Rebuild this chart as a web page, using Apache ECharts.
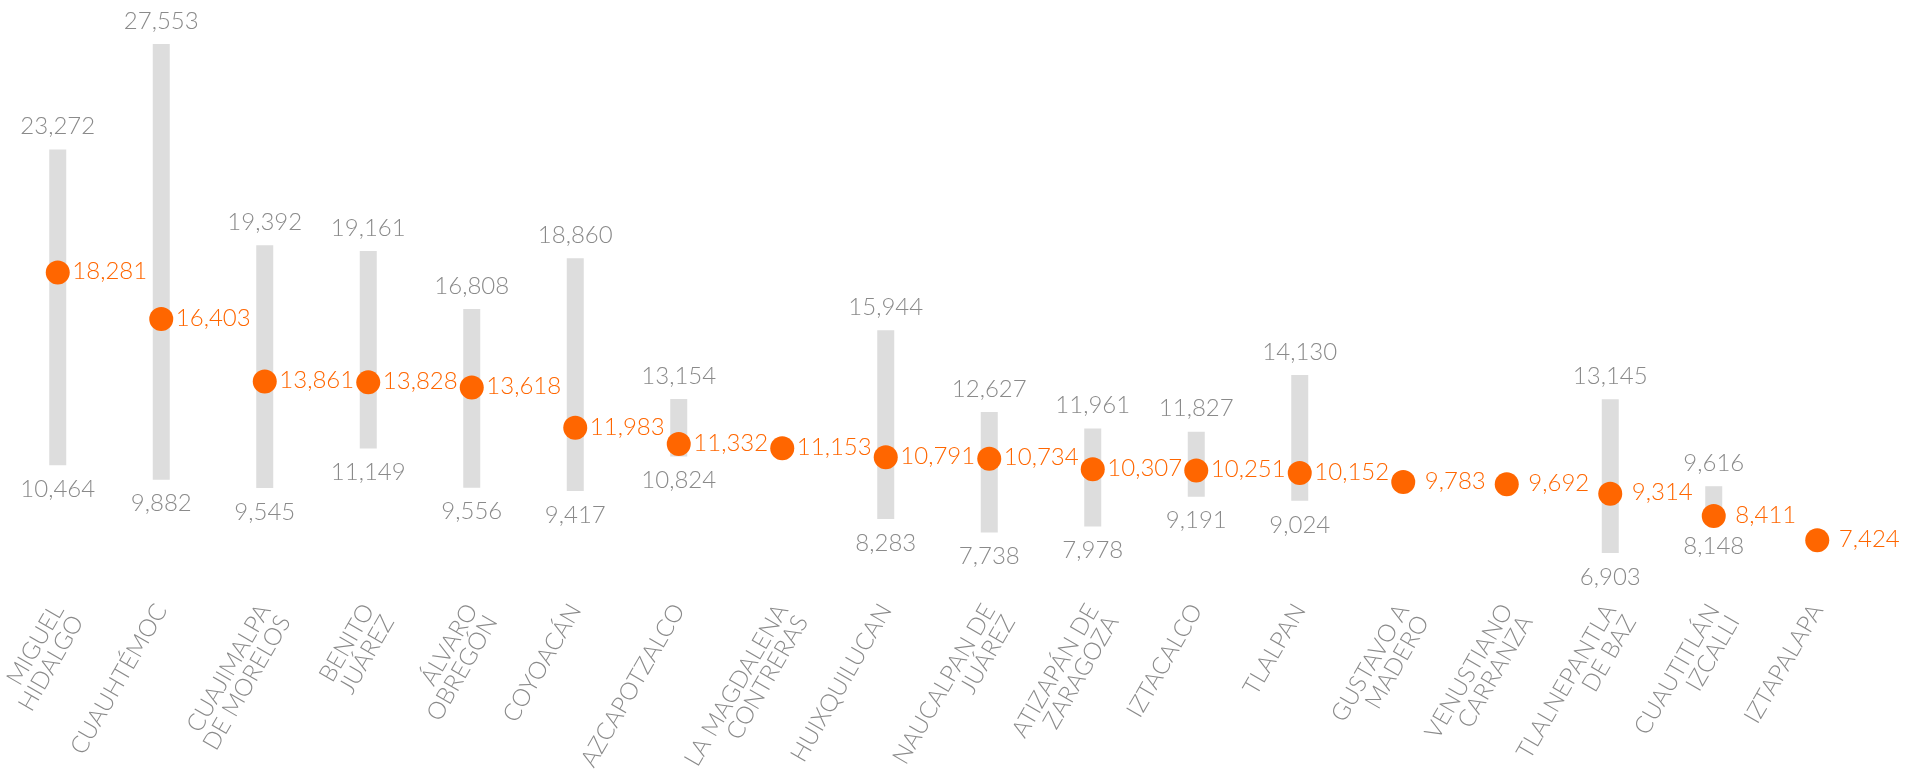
<!DOCTYPE html>
<html>
<head>
<meta charset="utf-8">
<script src="https://cdn.jsdelivr.net/npm/echarts@6/dist/echarts.min.js"></script>
<style>
  html, body { margin: 0; padding: 0; background: #ffffff; }
  #chart { width: 1905px; height: 781px; }
</style>
</head>
<body>
<div id="chart"></div>
<script>
const categories = ['MIGUEL\nHIDALGO', 'CUAUHTÉMOC', 'CUAJIMALPA\nDE MORELOS', 'BENITO\nJUÁREZ', 'ÁLVARO\nOBREGÓN', 'COYOACÁN', 'AZCAPOTZALCO', 'LA MAGDALENA\nCONTRERAS', 'HUIXQUILUCAN', 'NAUCALPAN DE\nJUÁREZ', 'ATIZAPÁN DE\nZARAGOZA', 'IZTACALCO', 'TLALPAN', 'GUSTAVO A\nMADERO', 'VENUSTIANO\nCARRANZA', 'TLALNEPANTLA\nDE BAZ', 'CUAUTITLÁN\nIZCALLI', 'IZTAPALAPA'];
const highValues = [23272, 27553, 19392, 19161, 16808, 18860, 13154, null, 15944, 12627, 11961, 11827, 14130, null, null, 13145, 9616, null];
const lowValues = [10464, 9882, 9545, 11149, 9556, 9417, 10824, null, 8283, 7738, 7978, 9191, 9024, null, null, 6903, 8148, null];
const midValues = [18281, 16403, 13861, 13828, 13618, 11983, 11332, 11153, 10791, 10734, 10307, 10251, 10152, 9783, 9692, 9314, 8411, 7424];

const FONT = 'Lato';
const GREY = '#8a8a8a';
const ORANGE = '#ff6600';
const fmt = v => Number(v).toLocaleString('en-US');

const chart = echarts.init(document.getElementById('chart'), null, { renderer: 'canvas' });

function renderRange(params, api) {
  const i = api.value(0);
  const lo = api.value(1);
  const hi = api.value(2);
  if (isNaN(lo) || isNaN(hi)) return null;
  const top = api.coord([i, hi]);
  const bot = api.coord([i, lo]);
  const w = 17;
  const ts = { fill: GREY, fontFamily: FONT, fontWeight: 300, fontSize: 24, align: 'center' };
  return {
    type: 'group',
    children: [
      { type: 'rect', shape: { x: top[0] - w / 2, y: top[1], width: w, height: bot[1] - top[1] }, style: { fill: '#dddddd' } },
      { type: 'text', x: top[0], y: top[1] - 11, style: Object.assign({ text: fmt(hi), verticalAlign: 'bottom' }, ts) },
      { type: 'text', x: bot[0], y: bot[1] + 12, style: Object.assign({ text: fmt(lo), verticalAlign: 'top' }, ts) }
    ]
  };
}

const option = {
  backgroundColor: '#ffffff',
  animation: false,
  grid: { left: 6, right: 36, top: 33, bottom: 181, containLabel: false, outerBoundsMode: 'none' },
  xAxis: {
    type: 'category',
    data: categories,
    axisLine: { show: false },
    axisTick: { show: false },
    axisLabel: {
      interval: 0,
      rotate: 60,
      margin: 6,
      color: GREY,
      fontFamily: FONT,
      fontWeight: 300,
      fontSize: 24,
      lineHeight: 23,
      formatter: v => (v.indexOf('\n') >= 0 ? '\n' + v : v)
    }
  },
  yAxis: {
    type: 'value',
    min: 5000,
    max: 28000,
    show: false,
    splitLine: { show: false }
  },
  series: [
    {
      type: 'custom',
      renderItem: renderRange,
      encode: { x: 0, y: [1, 2] },
      data: categories.map((c, i) => [i, lowValues[i] === null ? '-' : lowValues[i], highValues[i] === null ? '-' : highValues[i]]),
      z: 1
    },
    {
      type: 'scatter',
      data: midValues,
      symbol: 'circle',
      symbolSize: 24,
      itemStyle: { color: ORANGE, opacity: 1 },
      label: {
        show: true,
        position: 'inside',
        offset: [52, -1],
        align: 'center',
        verticalAlign: 'middle',
        color: ORANGE,
        fontFamily: FONT,
        fontWeight: 300,
        fontSize: 24,
        formatter: p => fmt(p.value)
      },
      z: 3
    }
  ]
};
chart.setOption(option);
</script>
</body>
</html>
